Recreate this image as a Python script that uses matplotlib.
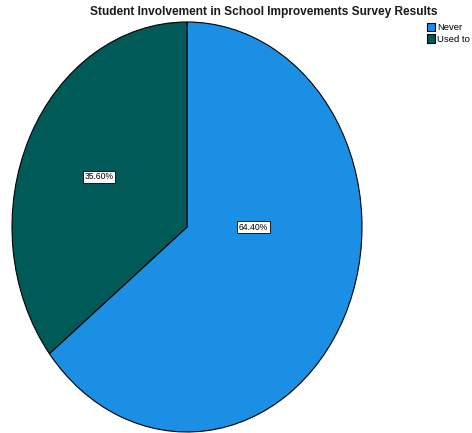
import matplotlib as mpl
mpl.use('Agg')
import matplotlib.pyplot as plt

plt.rcParams['font.family'] = ['Liberation Sans', 'DejaVu Sans']

categories = ["Never", "Used to"]
percents = [64.40, 35.60]
colors = ["#1a8fe3", "#005a58"]
title = "Student Involvement in School Improvements Survey Results"

fig = plt.figure(figsize=(4.72, 4.33), dpi=100)
ax = fig.add_axes([12/472, 1/433, 350/472, 410/433])

wedges, texts, autotexts = ax.pie(
    percents, colors=colors, startangle=90, counterclock=False,
    autopct=lambda p: "{:.2f}%".format(p), pctdistance=0.56,
    wedgeprops=dict(edgecolor="black", linewidth=0.8),
    textprops=dict(fontsize=6.2, color="black"))
ax.set_aspect('auto')
ax.set_xlim(-1, 1)
ax.set_ylim(-1, 1)

# SPSS puts the big slice's label closer to the middle
autotexts[0].set_position((0.38, 0.0))
for t in autotexts:
    t.set_bbox(dict(facecolor="white", edgecolor="black", linewidth=0.6, pad=1.2))

fig.text(264/472, 1 - 12/433, title, ha="center", va="center",
         fontsize=8.6, fontweight="bold", color="#1a1a1a")

fig.legend(wedges, categories, loc="upper left", bbox_to_anchor=(427/472, 1 - 23/433),
           frameon=False, fontsize=6.8, handlelength=0.85, handleheight=1.0,
           handletextpad=0.2, labelspacing=0.2, borderpad=0, borderaxespad=0)

plt.savefig("out.png", dpi=100)
plt.close(fig)
